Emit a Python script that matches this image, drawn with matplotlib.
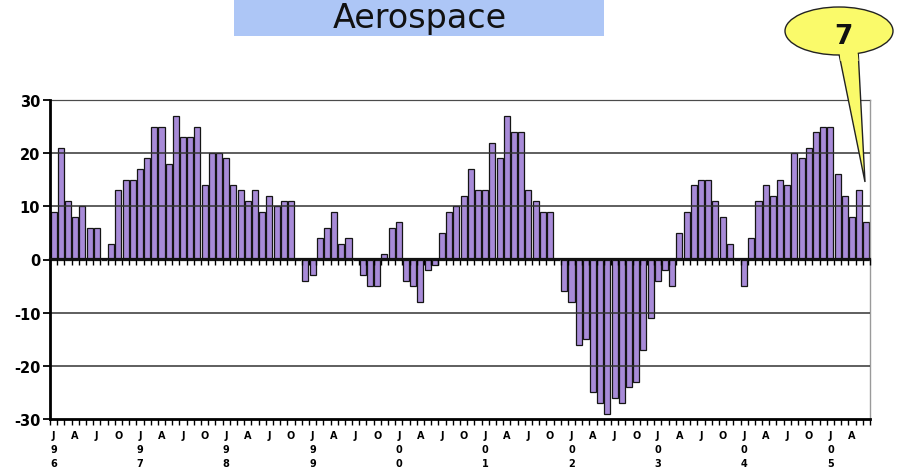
import numpy as np
import matplotlib
matplotlib.use("Agg")
import matplotlib.pyplot as plt
from matplotlib.patches import Rectangle, Ellipse, Polygon

plt.rcParams['axes.unicode_minus'] = False
plt.rcParams['font.family'] = ['DejaVu Sans']

# Monthly readings, Jan 1996 - Jun 2005
values_1996 = [9, 21, 11, 8, 10, 6, 6, 0, 3, 13, 15, 15]
values_1997 = [17, 19, 25, 25, 18, 27, 23, 23, 25, 14, 20, 20]
values_1998 = [19, 14, 13, 11, 13, 9, 12, 10, 11, 11, 0, -4]
values_1999 = [-3, 4, 6, 9, 3, 4, 0, -3, -5, -5, 1, 6]
values_2000 = [7, -4, -5, -8, -2, -1, 5, 9, 10, 12, 17, 13]
values_2001 = [13, 22, 19, 27, 24, 24, 13, 11, 9, 9, 0, -6]
values_2002 = [-8, -16, -15, -25, -27, -29, -26, -27, -24, -23, -17, -11]
values_2003 = [-4, -2, -5, 5, 9, 14, 15, 15, 11, 8, 3, 0]
values_2004 = [-5, 4, 11, 14, 12, 15, 14, 20, 19, 21, 24, 25]
values_2005 = [25, 16, 12, 8, 13, 7]

years = ['96', '97', '98', '99', '00', '01', '02', '03', '04', '05']
quarter_letters = ['J', 'A', 'J', 'O']
y_ticks = [-30, -20, -10, 0, 10, 20, 30]
title = 'Aerospace'
callout_text = '7'

values = (values_1996 + values_1997 + values_1998 + values_1999 + values_2000
          + values_2001 + values_2002 + values_2003 + values_2004 + values_2005)
n = len(values)
x = np.arange(n)

W, H = 897, 477
fig = plt.figure(figsize=(W / 100, H / 100), dpi=100)
ax = fig.add_axes([50 / W, 1 - 420 / H, 820 / W, 319 / H])

ax.bar(x, values, width=0.84, color='#a88bd8', edgecolor='#151515',
       linewidth=0.9, zorder=2)

ax.set_xlim(-0.5, n - 0.5)
ax.set_ylim(min(y_ticks), max(y_ticks))

# horizontal grid drawn over the bars
for yv in y_ticks[1:]:
    if yv != 0:
        ax.axhline(yv, color='#333333', lw=1.1, zorder=3)

# y axis
ax.set_yticks(y_ticks)
ax.set_yticklabels([str(v) for v in y_ticks], fontsize=10.5, fontweight='bold')
ax.tick_params(axis='y', direction='out', length=5, width=1.3, pad=2)

# x axis: quarter letters, year digits stacked under January
pos, labels = [], []
for i in range(n):
    m = i % 12
    if m % 3 == 0:
        lab = quarter_letters[m // 3]
        if m == 0:
            yr = years[i // 12]
            lab = lab + '\n' + yr[0] + '\n' + yr[1]
        pos.append(i)
        labels.append(lab)
ax.set_xticks(pos)
ax.set_xticklabels(labels, fontsize=7, fontweight='bold', linespacing=1.5, va='top')
ax.set_xticks(np.arange(n + 1) - 0.5, minor=True)
ax.tick_params(axis='x', which='major', length=0, pad=8)
ax.tick_params(axis='x', which='minor', direction='out', length=4, width=1)

for side in ('top', 'right'):
    ax.spines[side].set_color('#9a9a9a')
    ax.spines[side].set_linewidth(1)
ax.spines['left'].set_linewidth(2)
ax.spines['bottom'].set_linewidth(2)
ax.spines['left'].set_zorder(4)

# category axis crossing at zero
zero_axis = ax.secondary_xaxis(0.5)
zero_axis.set_xticks(np.arange(n + 1) - 0.5)
zero_axis.tick_params(axis='x', direction='in', length=4, width=1,
                      labeltop=False, labelbottom=False)
zero_axis.spines['top'].set_linewidth(1.6)
zero_axis.spines['top'].set_color('#111111')
zero_axis.set_zorder(5)

# title banner
fig.patches.append(Rectangle((234 / W, 1 - 37 / H), 370 / W, 40 / H,
                             transform=fig.transFigure, facecolor='#adc6f6',
                             edgecolor='none', zorder=0))
fig.text(420 / W, 1 - 28 / H, title, fontsize=24, ha='center', va='baseline',
         color='#111111', zorder=2)

# speech-bubble callout
tail = [(838 / W, 1 - 50 / H), (858 / W, 1 - 50 / H), (865 / W, 1 - 183 / H)]
fig.patches.append(Polygon(tail, closed=True, transform=fig.transFigure,
                           facecolor='#fafa6a', edgecolor='#222222', lw=1, zorder=1))
fig.patches.append(Ellipse((839 / W, 1 - 32 / H), 108 / W, 48 / H,
                           transform=fig.transFigure, facecolor='#fafa6a',
                           edgecolor='#222222', lw=1, zorder=2))
tail_fill = [(839 / W, 1 - 48 / H), (857 / W, 1 - 48 / H), (858.5 / W, 1 - 62 / H),
             (840.5 / W, 1 - 62 / H)]
fig.patches.append(Polygon(tail_fill, closed=True, transform=fig.transFigure,
                           facecolor='#fafa6a', edgecolor='none', zorder=3))
fig.text(843 / W, 1 - 37 / H, callout_text, fontsize=19, fontweight='bold',
         ha='center', va='center', color='#111111', zorder=4)

fig.savefig('out.png', dpi=100)
